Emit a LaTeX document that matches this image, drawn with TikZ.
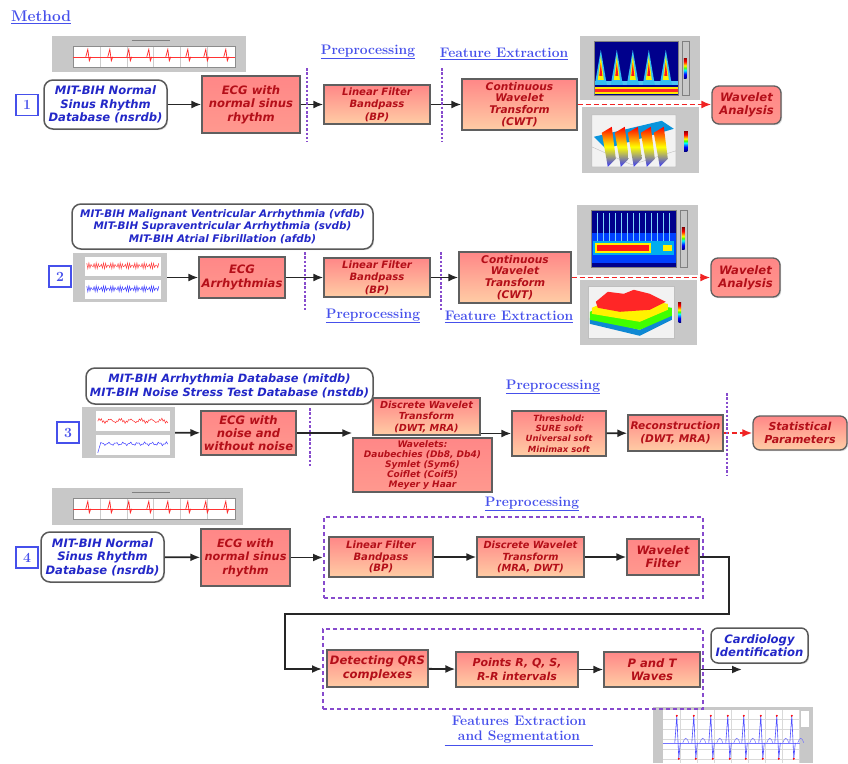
\documentclass[tikz,border=0pt]{standalone}
\usepackage{fontspec}
\usepackage{tikz}
\usetikzlibrary{arrows.meta, shadows}
\newfontfamily\dejavu{DejaVu Sans}
\newcommand{\blockfont}[2]{\dejavu\bfseries\itshape\fontsize{#1}{#2}\selectfont}
\definecolor{boxTop}{RGB}{255,135,135}
\definecolor{boxBot}{RGB}{255,205,165}
\definecolor{boxRed}{RGB}{180,15,25}
\definecolor{edgeGray}{RGB}{95,95,95}
\definecolor{dbBlue}{RGB}{35,40,200}
\definecolor{headBlue}{RGB}{70,80,235}
\definecolor{sepViolet}{RGB}{135,75,205}
\definecolor{plotGray}{RGB}{200,200,200}
\definecolor{arrowRed}{RGB}{240,35,35}
\definecolor{jetDark}{RGB}{0,0,140}
\pgfdeclareverticalshading{jetbar}{20bp}{color(0bp)=(blue!50!black); color(4bp)=(blue); color(8bp)=(cyan); color(10bp)=(green!70!yellow); color(12bp)=(yellow); color(16bp)=(red); color(20bp)=(red!50!black)}
\newcommand{\ecgstrip}{%
  \fill[white] (21,10) rectangle (183,31);
  \foreach \gx in {48,75,101,128,155} \draw[black!20, line width=.4pt] (\gx,10) -- (\gx,31);
  \draw[black!45, line width=.6pt] (21,10) rectangle (183,31);
  \draw[black!50, line width=.8pt] (80,5) -- (118,5);
  \draw[red!80, line width=.6pt] (21,21) -- (183,21);
  \foreach \sx in {36,58,77,97,116,136,154,174}
    \draw[red!85, line width=.7pt] (\sx-2,21) -- (\sx,13.5) -- (\sx+1.5,25) -- (\sx+3,21);
}

\begin{document}
\begin{tikzpicture}[x=1pt, y=-1pt,
    proc/.style={draw=edgeGray, line width=1.3pt, top color=boxTop, bottom color=boxBot, text=boxRed, align=center, inner sep=1pt, drop shadow={shadow xshift=1.2pt, shadow yshift=-1.2pt, fill=black!30}},
    flatproc/.style={proc, bottom color=boxTop!75!boxBot},
    outcome/.style={proc, rounded corners=7pt, bottom color=boxTop!80!boxBot},
    dbase/.style={draw=black!65, line width=1.5pt, rounded corners=9pt, fill=white, text=dbBlue, align=center, inner sep=1pt, drop shadow={shadow xshift=1.2pt, shadow yshift=-1.2pt, fill=black!20}},
    numbox/.style={draw=headBlue, line width=1.3pt, text=headBlue, font=\bfseries\fontsize{14}{14}\selectfont, minimum width=22pt, minimum height=21pt, inner sep=0pt},
    plotbg/.style={fill=plotGray, inner sep=0pt},
    groupbox/.style={draw=sepViolet, line width=2pt, dash pattern=on 4pt off 3pt, inner sep=0pt},
    sepline/.style={draw=sepViolet, line width=2.4pt, dash pattern=on 2.5pt off 1.8pt},
    flow/.style={-{Latex[length=10pt,width=8pt]}, line width=1.8pt, draw=black!85},
    redflow/.style={flow, draw=arrowRed, dash pattern=on 5pt off 3pt},
    head/.style={text=headBlue, font=\bfseries\fontsize{13.8}{16}\selectfont, inner sep=1pt}]
\useasboundingbox (0,0) rectangle (848,763);

\node[head, font=\bfseries\fontsize{15.5}{17}\selectfont, anchor=west] (method) at (10,17) {\underline{Method}};

% Row 1: normal sinus rhythm + CWT
\node[plotbg, minimum width=194pt, minimum height=36pt] (strip1) at (149,54) {};
\begin{scope}[shift={(strip1.north west)}]
  \ecgstrip
\end{scope}
\node[plotbg, minimum width=120pt, minimum height=64pt] (spec1) at (640,68) {};
\begin{scope}[shift={(spec1.north west)}]
  \fill[jetDark] (14,5) rectangle (98,59);
  \fill[cyan!70] (14,45) rectangle (98,49);
  \fill[yellow!90!orange] (14,51) rectangle (98,58);
  \fill[red!85] (14,53) rectangle (98,56);
  \foreach \px in {21,37,53,69,86} {
    \fill[cyan!80] (\px-6,49) -- (\px,14) -- (\px+6,49) -- cycle;
    \fill[yellow] (\px-3,44) -- (\px,20) -- (\px+3,44) -- cycle;
    \fill[red!90] (\px-1.5,40) -- (\px,27) -- (\px+1.5,40) -- cycle;
  }
  \shade[shading=jetbar] (102,5) rectangle (109,59);
  \draw[black!50, line width=.5pt] (14,5) rectangle (98,59) (102,5) rectangle (109,59);
\end{scope}
\node[plotbg, minimum width=117pt, minimum height=66pt] (surf1) at (640.5,140) {};
\begin{scope}[shift={(surf1.north west)}]
  \fill[black!5] (10,8) rectangle (94,60);
  \draw[black!25, line width=.4pt] (10,8) rectangle (94,60) (10,40) -- (50,58) -- (94,44);
  \fill[cyan!80!blue] (12,30) -- (80,14) -- (92,22) -- (24,42) -- cycle;
  \foreach \k in {0,...,4}
    \shade[top color=red, bottom color=blue!80, middle color=yellow] ({20+13*\k},26) -- ({30+13*\k},20) -- ({34+13*\k},52) -- ({26+13*\k},60) -- cycle;
  \shade[shading=jetbar] (100,8) rectangle (108,60);
\end{scope}

\node[numbox] (num1) at (27,105) {1};
\node[dbase, font=\blockfont{11.6}{13.5}, minimum width=123pt, minimum height=49pt] (db1) at (105.5,104.5) {MIT-BIH Normal\\Sinus Rhythm\\Database (nsrdb)};
\node[flatproc, font=\blockfont{11.6}{13.5}, minimum width=98pt, minimum height=57pt] (ecg1) at (251,104.5) {ECG with\\normal sinus\\rhythm};
\node[proc, font=\blockfont{10.1}{12.5}, minimum width=106pt, minimum height=39pt] (lf1) at (377,104.5) {Linear Filter\\Bandpass\\(BP)};
\node[proc, font=\blockfont{10.6}{11.7}, minimum width=115pt, minimum height=51pt] (cwt1) at (519.5,104.5) {Continuous\\Wavelet\\Transform\\(CWT)};
\node[outcome, font=\blockfont{11.6}{13}, minimum width=69pt, minimum height=38pt] (wa1) at (746.5,105) {Wavelet\\Analysis};
\node[head] (pre1) at (368,52) {\underline{Preprocessing}};
\node[head] (fe1) at (504,54) {\underline{Feature Extraction}};

\draw[flow] (db1) -- (ecg1);
\draw[flow] (ecg1) -- (lf1);
\draw[flow] (lf1) -- (cwt1);
\draw[redflow] (cwt1.east) -- (cwt1.east -| wa1.west);
\draw[sepline] (307,68) -- (307,142);
\draw[sepline] (442,68) -- (442,142);

% Row 2: arrhythmias + CWT
\node[plotbg, minimum width=94pt, minimum height=49pt] (img2) at (120,277.5) {};
\begin{scope}[shift={(img2.north west)}]
  \fill[white] (12,4) rectangle (88,23);
  \fill[white] (12,27) rectangle (88,46);
  \draw[red!75, line width=.5pt] plot[domain=14:86, samples=70] (\x, {13+3*sin(\x*150)});
  \draw[blue!75, line width=.5pt] plot[domain=14:86, samples=70] (\x, {36+3*sin(\x*150)});
\end{scope}
\node[plotbg, minimum width=121pt, minimum height=70pt] (spec2) at (637.5,240) {};
\begin{scope}[shift={(spec2.north west)}]
  \fill[jetDark] (14,5) rectangle (99,62);
  \fill[blue!75!cyan] (14,28) rectangle (99,58);
  \foreach \vx in {20,26,...,92} \fill[cyan!50] (\vx,8) rectangle (\vx+1.5,36);
  \fill[cyan] (16,36) rectangle (97,50);
  \fill[yellow] (18,38) rectangle (74,48);
  \fill[red!90] (20,40) rectangle (72,46);
  \fill[yellow] (86,40) rectangle (95,46);
  \shade[shading=jetbar] (103,5) rectangle (110,62);
  \draw[black!50, line width=.5pt] (14,5) rectangle (99,62) (103,5) rectangle (110,62);
\end{scope}
\node[plotbg, minimum width=117pt, minimum height=65pt] (surf2) at (638.5,312.5) {};
\begin{scope}[shift={(surf2.north west)}]
  \fill[black!5] (8,6) rectangle (94,58);
  \draw[black!25, line width=.4pt] (8,6) rectangle (94,58);
  \fill[cyan!70!blue] (10,44) -- (60,56) -- (92,40) -- (92,34) -- (60,50) -- (10,38) -- cycle;
  \fill[green!75!yellow] (10,32) -- (40,20) -- (92,28) -- (92,36) -- (60,50) -- (10,40) -- cycle;
  \fill[yellow] (12,28) -- (40,16) -- (88,24) -- (88,30) -- (60,42) -- (12,34) -- cycle;
  \fill[red!85] (16,22) -- (28,12) -- (44,14) -- (54,10) -- (70,14) -- (86,22) -- (70,30) -- (40,32) -- (18,28) -- cycle;
  \shade[shading=jetbar] (97,6) rectangle (103,58);
\end{scope}

\node[dbase, font=\blockfont{10.4}{12.3}, minimum width=301pt, minimum height=45pt] (db2) at (222.5,226.5) {MIT-BIH Malignant Ventricular Arrhythmia (vfdb)\\MIT-BIH Supraventricular Arrhythmia (svdb)\\MIT-BIH Atrial Fibrillation (afdb)};
\node[numbox] (num2) at (60,276.5) {2};
\node[flatproc, font=\blockfont{11.6}{13.3}, minimum width=86pt, minimum height=41pt] (ecg2) at (242,277.5) {ECG\\Arrhythmias};
\node[proc, font=\blockfont{10.1}{12.5}, minimum width=106pt, minimum height=39pt] (lf2) at (377,277.5) {Linear Filter\\Bandpass\\(BP)};
\node[proc, font=\blockfont{10.6}{11.7}, minimum width=112pt, minimum height=51pt] (cwt2) at (515,277.5) {Continuous\\Wavelet\\Transform\\(CWT)};
\node[outcome, font=\blockfont{11.6}{13}, minimum width=69pt, minimum height=39pt] (wa2) at (745.5,277.5) {Wavelet\\Analysis};
\node[head] (pre2) at (373,316) {\underline{Preprocessing}};
\node[head] (fe2) at (509,317) {\underline{Feature Extraction}};

\draw[flow] (img2) -- (ecg2);
\draw[flow] (ecg2) -- (lf2);
\draw[flow] (lf2) -- (cwt2);
\draw[redflow] (cwt2) -- (wa2);
\draw[sepline] (305,252) -- (305,312);
\draw[sepline] (441,252) -- (441,310);

% Row 3: noise + DWT denoising
\node[plotbg, minimum width=93pt, minimum height=51pt] (img3) at (128.5,432.5) {};
\begin{scope}[shift={(img3.north west)}]
  \fill[white] (14,4) rectangle (88,24);
  \fill[white] (14,28) rectangle (88,48);
  \draw[red!80, line width=.5pt] plot[domain=16:86, samples=60] (\x, {14+1.5*sin(\x*35)+1.2*sin(\x*143)});
  \draw[blue!75, line width=.5pt] (16,46) -- plot[domain=19:86, samples=50] (\x, {37+1.2*sin(\x*50)+0.8*sin(\x*131)});
\end{scope}

\node[dbase, font=\blockfont{11.4}{13.5}, minimum width=287pt, minimum height=36pt] (db3) at (229.5,386) {MIT-BIH Arrhythmia Database (mitdb)\\MIT-BIH Noise Stress Test Database (nstdb)};
\node[numbox] (num3) at (68,432.5) {3};
\node[flatproc, font=\blockfont{11.6}{13}, minimum width=95pt, minimum height=44pt] (ecg3) at (248.5,433) {ECG with\\noise and\\without noise};
\node[proc, font=\blockfont{9.7}{11.5}, minimum width=107pt, minimum height=37pt] (dwt3) at (426.5,416.5) {Discrete Wavelet\\Transform\\(DWT, MRA)};
\node[flatproc, font=\blockfont{9}{10.2}, minimum width=139pt, minimum height=54pt] (wav3) at (422.5,465) {Wavelets:\\Daubechies (Db8, Db4)\\Symlet (Sym6)\\Coiflet (Coif5)\\Meyer y Haar};
\node[proc, font=\blockfont{8.5}{10.3}, minimum width=94pt, minimum height=45pt] (thr3) at (559,433.5) {Threshold:\\SURE soft\\Universal soft\\Minimax soft};
\node[proc, font=\blockfont{10.6}{13}, minimum width=95pt, minimum height=36pt] (rec3) at (675.5,433) {Reconstruction\\(DWT, MRA)};
\node[outcome, bottom color=boxBot, font=\blockfont{11}{13}, minimum width=94pt, minimum height=34pt] (sp3) at (800,433) {Statistical\\Parameters};
\node[head] (pre3) at (553,387) {\underline{Preprocessing}};

\draw[flow] (img3) -- (ecg3);
\draw[flow] (ecg3.east) -- (ecg3.east -| wav3.west);
\draw[flow] (thr3.west -| dwt3.east) -- (thr3.west);
\draw[flow] (thr3) -- (rec3);
\draw[redflow] (rec3) -- (sp3);
\draw[sepline] (310,408) -- (310,467);
\draw[sepline] (727,393) -- (727,476);

% Row 4: QRS detection and segmentation
\node[plotbg, minimum width=191pt, minimum height=37pt] (strip4) at (147.5,506.5) {};
\begin{scope}[shift={(strip4.north west)}]
  \ecgstrip
\end{scope}
\node[plotbg, minimum width=160pt, minimum height=56pt] (ecg5) at (733,735) {};
\begin{scope}[shift={(ecg5.north west)}]
  \fill[white] (10,3) rectangle (147,56);
  \foreach \gx in {27,44,...,146} \draw[black!15, line width=.4pt] (\gx,3) -- (\gx,56);
  \foreach \gy in {12,22,...,52} \draw[black!15, line width=.4pt] (10,\gy) -- (147,\gy);
  \draw[blue!55, line width=.5pt] (10,36) -- (147,36);
  \foreach \ex in {24,41,58,75,91,108,124,139} {
    \draw[blue!70, line width=.6pt] (\ex-2,36) -- (\ex,9) -- (\ex+2,52) -- (\ex+3.5,36);
    \draw[blue!55, line width=.5pt] (\ex+6,36) .. controls (\ex+8,30) and (\ex+10,30) .. (\ex+12,36);
    \fill[red] (\ex,9) circle (1.1);
    \fill[red] (\ex+2,52) circle (1.1);
  }
  \fill[white] (148,4) rectangle (156,20);
\end{scope}

\node[numbox] (num4) at (27,557.5) {4};
\node[dbase, font=\blockfont{11.6}{13.5}, minimum width=123pt, minimum height=50pt] (db4) at (102.5,557) {MIT-BIH Normal\\Sinus Rhythm\\Database (nsrdb)};
\node[flatproc, font=\blockfont{11.3}{13.5}, minimum width=89pt, minimum height=57pt] (ecg4) at (245.5,557.5) {ECG with\\normal sinus\\rhythm};
\node[groupbox, minimum width=379pt, minimum height=81pt] (prebox) at (513.5,557.5) {};
\node[proc, font=\blockfont{10.1}{11.5}, minimum width=104pt, minimum height=40pt] (lf4) at (381,557) {Linear Filter\\Bandpass\\(BP)};
\node[proc, font=\blockfont{9.8}{11.5}, minimum width=107pt, minimum height=40pt] (dwt4) at (530.5,557) {Discrete Wavelet\\Transform\\(MRA, DWT)};
\node[flatproc, font=\blockfont{11.6}{13}, minimum width=72pt, minimum height=36pt] (wf4) at (663,557) {Wavelet\\Filter};
\node[head] (pre4) at (532,504) {\underline{Preprocessing}};

\node[groupbox, minimum width=380pt, minimum height=80pt] (febox) at (513,669) {};
\node[proc, font=\blockfont{11.6}{13.5}, minimum width=101pt, minimum height=37pt] (qrs) at (377.5,668.5) {Detecting QRS\\complexes};
\node[proc, font=\blockfont{11}{13.5}, minimum width=122pt, minimum height=35pt] (pts) at (517,669.5) {Points R, Q, S,\\R-R intervals};
\node[proc, font=\blockfont{11.6}{13.5}, minimum width=96pt, minimum height=35pt] (pt) at (652,669.5) {P and T\\Waves};
\node[dbase, rounded corners=7pt, font=\blockfont{11.6}{13.5}, minimum width=97pt, minimum height=35pt] (card) at (759.5,645.5) {Cardiology\\Identification};
\node[head, align=center, font=\bfseries\fontsize{13.8}{15}\selectfont, inner xsep=7pt, inner ysep=2pt] (fes) at (519,730) {Features Extraction\\and Segmentation};
\draw[headBlue, line width=.8pt] (fes.south west) -- (fes.south east);
\coordinate (outpt) at (742,669.5);

\draw[flow] (db4) -- (ecg4);
\draw[flow] (ecg4.east) -- (ecg4.east -| prebox.west);
\draw[flow] (lf4) -- (dwt4);
\draw[flow] (dwt4) -- (wf4);
\draw[flow] (wf4.east) -- ++(29,0) |- (285,614) |- (febox.west);
\draw[flow] (qrs) -- (pts);
\draw[flow] (pts) -- (pt);
\draw[flow] (pt.east) -- (outpt);
\end{tikzpicture}
\end{document}
